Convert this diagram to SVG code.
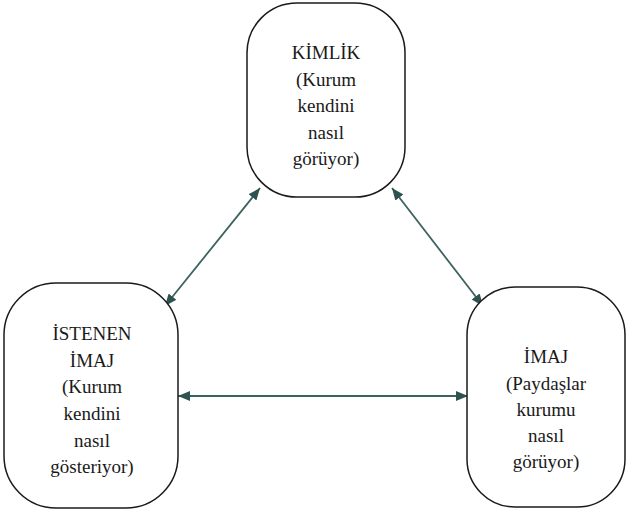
<svg xmlns="http://www.w3.org/2000/svg" width="627" height="513" viewBox="0 0 627 513">
  <style>
    .node { fill: #ffffff; stroke: #1a1a1a; stroke-width: 1.5; }
    .label { font-size: 19px; fill: #1a1a1a; text-anchor: middle; }
    .link { stroke: #3d625f; stroke-width: 1.8; fill: none; marker-start: url(#head); marker-end: url(#head); }
  </style>
  <defs>
    <marker id="head" viewBox="0 0 12 10" refX="12" refY="5" markerWidth="12" markerHeight="10" markerUnits="userSpaceOnUse" orient="auto-start-reverse">
      <path d="M0,0 L12,5 L0,10 Z" fill="#2d524f"/>
    </marker>
  </defs>
  <rect width="627" height="513" fill="#ffffff"/>

  <g id="connectors">
    <line class="link" x1="260" y1="188" x2="165" y2="306"/>
    <line class="link" x1="392" y1="188" x2="483" y2="306"/>
    <line class="link" x1="178" y1="396" x2="468" y2="396"/>
  </g>

  <g id="kimlik" font-family="Liberation Serif, DejaVu Serif, serif">
    <rect class="node" x="247" y="3" width="158" height="194" rx="50" ry="50"/>
    <text class="label" x="326" y="59">KİMLİK</text>
    <text class="label" x="326" y="86">(Kurum</text>
    <text class="label" x="326" y="112">kendini</text>
    <text class="label" x="326" y="139">nasıl</text>
    <text class="label" x="326" y="165">görüyor)</text>
  </g>

  <g id="istenen-imaj" font-family="Liberation Serif, DejaVu Serif, serif">
    <rect class="node" x="4" y="283" width="174" height="225" rx="52" ry="52"/>
    <text class="label" x="92" y="340">İSTENEN</text>
    <text class="label" x="92" y="367">İMAJ</text>
    <text class="label" x="92" y="393">(Kurum</text>
    <text class="label" x="92" y="420">kendini</text>
    <text class="label" x="92" y="447">nasıl</text>
    <text class="label" x="92" y="473">gösteriyor)</text>
  </g>

  <g id="imaj" font-family="Liberation Serif, DejaVu Serif, serif">
    <rect class="node" x="467" y="287" width="158" height="220" rx="48" ry="48"/>
    <text class="label" x="546" y="363">İMAJ</text>
    <text class="label" x="546" y="390">(Paydaşlar</text>
    <text class="label" x="546" y="416">kurumu</text>
    <text class="label" x="546" y="442">nasıl</text>
    <text class="label" x="546" y="468">görüyor)</text>
  </g>
</svg>
